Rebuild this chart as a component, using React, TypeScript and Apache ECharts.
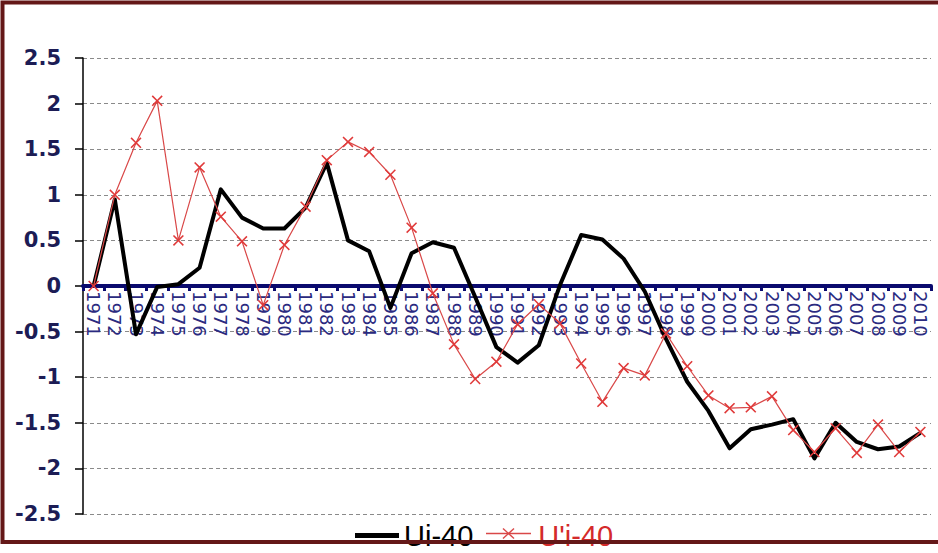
import React, { useEffect, useRef } from "react";
import * as echarts from "echarts";

const years: string[] = [
  "1971", "1972", "1973", "1974", "1975", "1976", "1977", "1978", "1979", "1980",
  "1981", "1982", "1983", "1984", "1985", "1986", "1987", "1988", "1989", "1990",
  "1991", "1992", "1993", "1994", "1995", "1996", "1997", "1998", "1999", "2000",
  "2001", "2002", "2003", "2004", "2005", "2006", "2007", "2008", "2009", "2010",
];

const ui40: number[] = [
  0, 0.95, -0.53, -0.01, 0.02, 0.2, 1.06, 0.75, 0.63, 0.63,
  0.86, 1.35, 0.5, 0.38, -0.24, 0.36, 0.48, 0.42, -0.12, -0.67,
  -0.84, -0.65, 0.01, 0.56, 0.51, 0.3, -0.06, -0.58, -1.05, -1.37,
  -1.78, -1.57, -1.52, -1.46, -1.89, -1.5, -1.71, -1.79, -1.76, -1.61,
];

const uPrime40: number[] = [
  0, 1.0, 1.57, 2.03, 0.5, 1.3, 0.76, 0.49, -0.21, 0.45,
  0.87, 1.38, 1.58, 1.47, 1.22, 0.64, -0.08, -0.64, -1.02, -0.83,
  -0.42, -0.2, -0.41, -0.85, -1.27, -0.9, -0.98, -0.52, -0.88, -1.2,
  -1.34, -1.33, -1.21, -1.58, -1.82, -1.56, -1.83, -1.52, -1.82, -1.6,
];

const seriesNames: string[] = ["Ui-40", "U'i-40"];

const X_SYMBOL =
  "path://M0,1L1,0L5,4L9,0L10,1L6,5L10,9L9,10L5,6L1,10L0,9L4,5Z";

export default function App() {
  const ref = useRef<HTMLDivElement>(null);

  useEffect(() => {
    document.body.style.margin = "0";
    const chart = echarts.init(ref.current!, undefined, { renderer: "svg" });
    chart.setOption({
      animation: false,
      backgroundColor: "#ffffff",
      grid: { left: 83, right: 7, top: 58, bottom: 39, containLabel: false },
      legend: {
        left: 350,
        top: 516,
        itemGap: 16,
        textStyle: { fontFamily: "Liberation Sans, Arial", fontSize: 29 },
        data: [
          {
            name: seriesNames[0],
            icon: "rect",
            itemStyle: { color: "#000000" },
            textStyle: { color: "#000000" },
          },
          {
            name: seriesNames[1],
            icon: "rect",
            itemStyle: { color: "rgba(0,0,0,0)" },
            textStyle: { color: "#d42a2a" },
          },
        ],
        itemWidth: 44,
        itemHeight: 5,
      },
      xAxis: {
        type: "category",
        data: years,
        boundaryGap: true,
        offset: -228,
        axisLine: { onZero: false, lineStyle: { color: "#0a0a6e", width: 4 } },
        axisTick: { show: true, length: 5, lineStyle: { color: "#0a0a6e", width: 3 } },
        axisLabel: {
          interval: 0,
          rotate: -90,
          margin: 5,
          color: "#2a2a80",
          fontFamily: "DejaVu Sans",
          fontSize: 18,
        },
        splitLine: { show: false },
        z: 3,
      },
      yAxis: {
        type: "value",
        min: -2.5,
        max: 2.5,
        interval: 0.5,
        axisLine: { show: true, lineStyle: { color: "#000000", width: 1.5 } },
        axisTick: { show: true, length: 8, lineStyle: { color: "#000000", width: 1.5 } },
        axisLabel: {
          margin: 22,
          color: "#1c1c55",
          fontFamily: "DejaVu Sans",
          fontWeight: "bold",
          fontSize: 21,
        },
        splitLine: {
          show: true,
          lineStyle: { color: "#8a8a8a", type: [4, 3], width: 1 },
        },
      },
      series: [
        {
          name: seriesNames[0],
          type: "line",
          data: ui40,
          symbol: "none",
          lineStyle: { color: "#000000", width: 4, join: "round" },
          itemStyle: { color: "#000000" },
          z: 4,
        },
        {
          name: seriesNames[1],
          type: "line",
          data: uPrime40,
          symbol: X_SYMBOL,
          symbolSize: 11,
          lineStyle: { color: "#d94848", width: 1.2 },
          itemStyle: { color: "#e03a3a" },
          z: 5,
        },
      ],
      graphic: [
        {
          type: "group",
          silent: true,
          z: 50,
          children: [
            {
              type: "line",
              shape: { x1: 486, y1: 533.5, x2: 531, y2: 533.5 },
              style: { stroke: "#d94848", lineWidth: 1.6 },
            },
            {
              type: "line",
              shape: { x1: 503, y1: 528.5, x2: 514, y2: 538.5 },
              style: { stroke: "#d94848", lineWidth: 1.4 },
            },
            {
              type: "line",
              shape: { x1: 514, y1: 528.5, x2: 503, y2: 538.5 },
              style: { stroke: "#d94848", lineWidth: 1.4 },
            },
          ],
        },
        {
          type: "rect",
          left: 0,
          top: 0,
          shape: { x: 10.5, y: 12.5, width: 940, height: 539.5 },
          style: { fill: "none", stroke: "#641818", lineWidth: 4 },
          silent: true,
          z: 100,
        },
      ],
    });
    return () => chart.dispose();
  }, []);

  return <div ref={ref} style={{ width: 938, height: 553 }} />;
}
